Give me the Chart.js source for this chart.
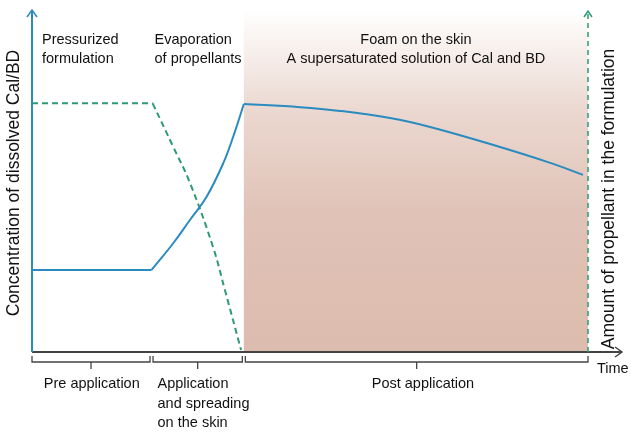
<!DOCTYPE html>
<html>
<head>
<meta charset="utf-8">
<script src="https://cdn.jsdelivr.net/npm/chart.js@4.4.0/dist/chart.umd.min.js"></script>
<style>
  html, body { margin: 0; padding: 0; background: #fff; }
</style>
</head>
<body>
<canvas id="chart" width="631" height="432"></canvas>
<script>
// time in arbitrary units (0..10), values in % of axis height
const phaseBounds = [0, 2.15, 3.81, 10];
const phaseLabels = [["Pre application"], ["Application", "and spreading", "on the skin"], ["Post application"]];
const stageTitles = [["Pressurized", "formulation"], ["Evaporation", "of propellants"], ["Foam on the skin", "A supersaturated solution of Cal and BD"]];

// concentration of dissolved Cal/BD (solid blue), one array per phase
const concPreTime = [0, 2.15];
const concPreValues = [24, 24];
const concRiseTime = [2.15, 2.54, 2.84, 3.14, 3.44, 3.62, 3.81];
const concRiseValues = [24, 31.8, 38.6, 45.4, 55.2, 63.0, 72.5];
const concPostTime = [3.81, 4.82, 5.54, 6.44, 7.16, 8.24, 9.32, 9.91];
const concPostValues = [72.5, 71.6, 70.5, 68.4, 65.8, 60.8, 55.3, 51.8];

// amount of propellant (dashed green)
const propPreTime = [0, 2.17];
const propPreValues = [72.7, 72.7];
const propDropTime = [2.17, 2.54, 2.84, 3.26, 3.47, 3.76];
const propDropValues = [72.7, 60.0, 49.5, 30.5, 18.1, 0.6];

const leftTitle = "Concentration of dissolved Cal/BD";
const rightTitle = "Amount of propellant in the formulation";
const xTitle = "Time";

const blue = "#2a8bc0";
const green = "#2e9a74";
const axisGray = "#444";
const font = "14.5px 'Liberation Sans', Arial, sans-serif";

function toPoints(xs, ys) {
  return xs.map((t, i) => ({ x: t, y: ys[i] }));
}

function lineSet(label, xs, ys, color, dashed, tension) {
  return {
    label: label,
    data: toPoints(xs, ys),
    borderColor: color,
    borderWidth: 2,
    borderDash: dashed ? [6, 4] : [],
    pointRadius: 0,
    tension: tension,
    fill: false
  };
}

const decorPlugin = {
  id: "decor",
  beforeDatasetsDraw(chart) {
    const { ctx, chartArea, scales } = chart;
    const left = scales.x.getPixelForValue(phaseBounds[2]);
    const grad = ctx.createLinearGradient(0, chartArea.top, 0, chartArea.bottom);
    grad.addColorStop(0, "rgba(221,189,176,0)");
    grad.addColorStop(0.05, "rgba(221,189,176,0.1)");
    grad.addColorStop(0.3, "rgba(221,189,176,0.6)");
    grad.addColorStop(0.6, "rgba(221,189,176,0.92)");
    grad.addColorStop(1, "rgba(220,188,174,1)");
    ctx.save();
    ctx.fillStyle = grad;
    ctx.fillRect(left, chartArea.top, chartArea.right - left, chartArea.bottom - chartArea.top);
    ctx.restore();
  },
  afterDraw(chart) {
    const { ctx, chartArea, scales } = chart;
    const x = scales.x;
    const top = chartArea.top, bottom = chartArea.bottom;
    const L = chartArea.left, R = chartArea.right;
    ctx.save();

    // x axis with arrow
    ctx.strokeStyle = axisGray;
    ctx.lineWidth = 2;
    ctx.beginPath();
    ctx.moveTo(L, bottom);
    ctx.lineTo(R + 33, bottom);
    ctx.stroke();
    ctx.lineWidth = 1.5;
    ctx.beginPath();
    ctx.moveTo(R + 27, bottom - 5);
    ctx.lineTo(R + 34, bottom);
    ctx.lineTo(R + 27, bottom + 5);
    ctx.stroke();

    // left axis
    ctx.strokeStyle = blue;
    ctx.lineWidth = 2;
    ctx.beginPath();
    ctx.moveTo(L, bottom);
    ctx.lineTo(L, top);
    ctx.stroke();
    ctx.lineWidth = 1.5;
    ctx.beginPath();
    ctx.moveTo(L - 5, top + 7);
    ctx.lineTo(L, top);
    ctx.lineTo(L + 5, top + 7);
    ctx.stroke();

    // right axis (dashed)
    ctx.strokeStyle = green;
    ctx.lineWidth = 1.5;
    ctx.setLineDash([5, 4]);
    ctx.beginPath();
    ctx.moveTo(R, bottom);
    ctx.lineTo(R, top + 4);
    ctx.stroke();
    ctx.setLineDash([]);
    ctx.beginPath();
    ctx.moveTo(R - 4, top + 7);
    ctx.lineTo(R, top + 1);
    ctx.lineTo(R + 4, top + 7);
    ctx.stroke();

    // brackets under the x axis
    ctx.strokeStyle = axisGray;
    ctx.lineWidth = 1.3;
    for (let i = 0; i < 3; i++) {
      const x0 = x.getPixelForValue(phaseBounds[i]) + (i ? 1.5 : 0);
      const x1 = x.getPixelForValue(phaseBounds[i + 1]) - (i < 2 ? 1.5 : 0);
      const mid = (x0 + x1) / 2;
      ctx.beginPath();
      ctx.moveTo(x0, bottom + 4);
      ctx.lineTo(x0, bottom + 10);
      ctx.lineTo(x1, bottom + 10);
      ctx.lineTo(x1, bottom + 4);
      ctx.moveTo(mid, bottom + 10);
      ctx.lineTo(mid, bottom + 17);
      ctx.stroke();
    }

    // labels under the brackets
    ctx.fillStyle = "#111";
    ctx.font = font;
    ctx.textBaseline = "alphabetic";
    const pre = (x.getPixelForValue(phaseBounds[0]) + x.getPixelForValue(phaseBounds[1])) / 2;
    ctx.textAlign = "center";
    ctx.fillText(phaseLabels[0][0], pre, bottom + 36);
    ctx.textAlign = "left";
    phaseLabels[1].forEach((s, i) => ctx.fillText(s, x.getPixelForValue(phaseBounds[1]) + 6, bottom + 36 + i * 19.5));
    const post = (x.getPixelForValue(phaseBounds[2]) + x.getPixelForValue(phaseBounds[3])) / 2;
    ctx.textAlign = "center";
    ctx.fillText(phaseLabels[2][0], post + 7, bottom + 36);

    // Time label
    ctx.textAlign = "left";
    ctx.fillText(xTitle, R + 9, bottom + 21);

    // stage titles
    stageTitles[0].forEach((s, i) => ctx.fillText(s, L + 10, 44 + i * 19));
    stageTitles[1].forEach((s, i) => ctx.fillText(s, x.getPixelForValue(phaseBounds[1]) + 3, 44 + i * 19));
    ctx.textAlign = "center";
    const foamMid = (x.getPixelForValue(phaseBounds[2]) + R) / 2;
    stageTitles[2].forEach((s, i) => ctx.fillText(s, foamMid, 44 + i * 19));

    // axis titles
    ctx.font = "17.5px 'Liberation Sans', Arial, sans-serif";
    ctx.textAlign = "center";
    ctx.textBaseline = "middle";
    ctx.save();
    ctx.translate(14, 183);
    ctx.rotate(-Math.PI / 2);
    ctx.fillText(leftTitle, 0, 0);
    ctx.restore();
    ctx.save();
    ctx.translate(R + 21, 199);
    ctx.rotate(-Math.PI / 2);
    ctx.fillText(rightTitle, 0, 0);
    ctx.restore();

    ctx.restore();
  }
};

new Chart(document.getElementById("chart").getContext("2d"), {
  type: "line",
  data: {
    datasets: [
      lineSet("Concentration", concPreTime, concPreValues, blue, false, 0),
      lineSet("Concentration", concRiseTime, concRiseValues, blue, false, 0.4),
      lineSet("Concentration", concPostTime, concPostValues, blue, false, 0.4),
      lineSet("Propellant", propPreTime, propPreValues, green, true, 0),
      lineSet("Propellant", propDropTime, propDropValues, green, true, 0.4)
    ]
  },
  options: {
    responsive: false,
    animation: false,
    layout: { padding: { left: 32, right: 43, top: 10, bottom: 80 } },
    plugins: { legend: { display: false }, tooltip: { enabled: false } },
    scales: {
      x: { type: "linear", min: 0, max: 10, display: false },
      y: { min: 0, max: 100, display: false }
    }
  },
  plugins: [decorPlugin]
});
</script>
</body>
</html>
